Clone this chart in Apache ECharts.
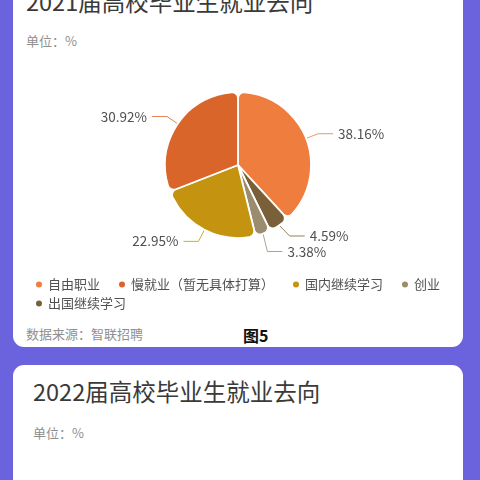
<!doctype html>
<html>
<head>
<meta charset="UTF-8">
<title>就业去向</title>
<script src="https://cdn.jsdelivr.net/npm/echarts@6/dist/echarts.min.js"></script>
<style>
	html, body{
		margin: 0;
		padding: 0;
		width: 480px;
		height: 480px;
		overflow: hidden;
		background: #6b62de;
		font-family: "Noto Sans CJK SC", "Noto Sans", sans-serif;
	}
	.card{
		position: absolute;
		left: 13px;
		width: 450px;
		background: #fff;
		border-radius: 11px;
	}
	.title{
		position: absolute;
		font-size: 23.5px;
		line-height: 1;
		color: #3a3a3a;
		white-space: nowrap;
	}
	.unit, .source{
		position: absolute;
		font-size: 13px;
		line-height: 1;
		color: #8f8f8f;
		white-space: nowrap;
	}
	.fig{
		position: absolute;
		font-size: 16px;
		font-weight: bold;
		line-height: 1;
		color: #111;
	}
	#pie{
		position: absolute;
		left: 0;
		top: 0;
		width: 480px;
		height: 347px;
	}
</style>
</head>
<body>
	<div class="card" style="top:-30px;height:377px;"></div>
	<div class="card" style="top:365px;height:140px;"></div>

	<div class="title" style="left:26px;top:-10px;">2021届高校毕业生就业去向</div>
	<div class="unit" style="left:26px;top:34px;">单位：%</div>
	<div class="source" style="left:26px;top:327px;">数据来源：智联招聘</div>
	<div class="fig" style="left:243px;top:327px;">图5</div>

	<div class="title" style="left:33px;top:380px;">2022届高校毕业生就业去向</div>
	<div class="unit" style="left:33px;top:426px;">单位：%</div>

	<div id="pie"></div>

<script>
// 饼图数据（顺时针，从12点方向开始）
var names = ['自由职业', '出国继续学习', '创业', '国内继续学习', '慢就业（暂无具体打算）'];
var values = [38.16, 4.59, 3.38, 22.95, 30.92];
var colors = ['#ee7d3e', '#7a6038', '#9c8c6e', '#c4930f', '#d9652b'];
// 图例顺序
var legendRow1 = ['自由职业', '慢就业（暂无具体打算）', '国内继续学习', '创业'];
var legendRow2 = ['出国继续学习'];

var pieData = [];
for (var i = 0; i < names.length; i++) {
	pieData.push({ name: names[i], value: values[i], itemStyle: { color: colors[i] } });
}

var legendBase = {
	orient: 'horizontal',
	icon: 'circle',
	itemWidth: 8,
	itemHeight: 8,
	itemGap: 17,
	textStyle: { fontSize: 13, color: '#505050', fontFamily: 'Noto Sans CJK SC' }
};

var chart = echarts.init(document.getElementById('pie'));
chart.setOption({
	animation: false,
	legend: [
		Object.assign({ data: legendRow1, left: 29, top: 273 }, legendBase),
		Object.assign({ data: legendRow2, left: 29, top: 292 }, legendBase)
	],
	series: [{
		type: 'pie',
		center: [238, 165],
		radius: 73,
		startAngle: 90,
		data: pieData,
		itemStyle: { borderColor: '#fff', borderWidth: 1.8, borderRadius: 6 },
		label: {
			formatter: '{c}%',
			fontSize: 13.5,
			color: '#505050',
			fontFamily: 'Noto Sans CJK SC'
		},
		labelLine: { length: 13, length2: 15, lineStyle: { width: 1, opacity: 0.8 } }
	}]
});
</script>
</body>
</html>
